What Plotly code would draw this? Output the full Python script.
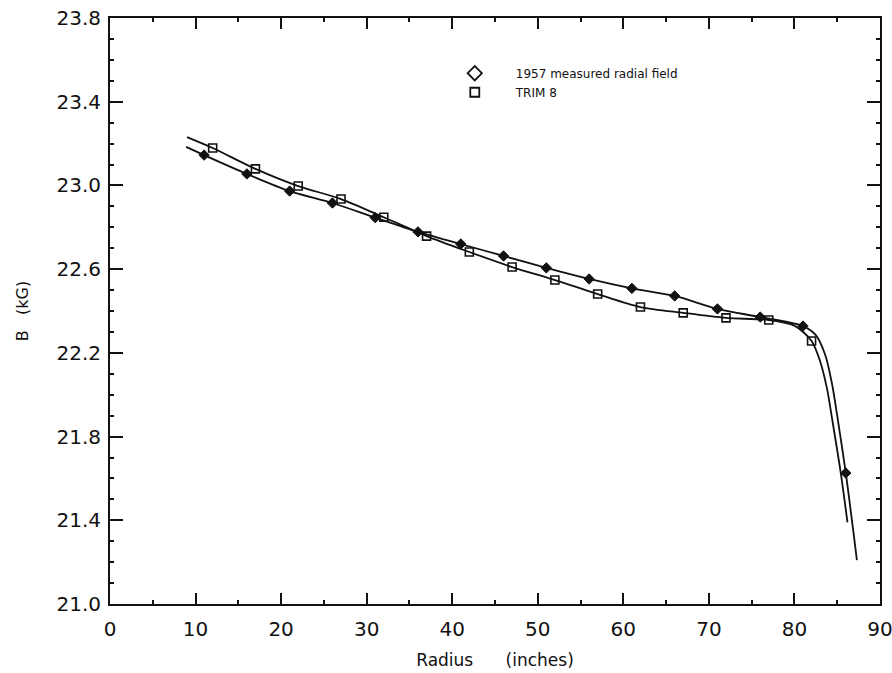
import plotly.graph_objects as go

# Measured radial field (1957), radius in inches, B in kG
measured_r = [11, 16, 21, 26, 31, 36, 41, 46, 51, 56, 61, 66, 71, 76, 81, 86]
measured_b = [23.145, 23.055, 22.973, 22.916, 22.846, 22.778, 22.720, 22.663,
              22.606, 22.553, 22.508, 22.472, 22.410, 22.371, 22.328, 21.626]

# TRIM 8 computed field
trim_r = [12, 17, 22, 27, 32, 37, 42, 47, 52, 57, 62, 67, 72, 77, 82]
trim_b = [23.179, 23.079, 22.997, 22.935, 22.848, 22.758, 22.682, 22.610,
          22.548, 22.481, 22.419, 22.391, 22.367, 22.357, 22.257]

# Smooth curves drawn through each data set (including the fall-off at the edge)
measured_curve_r = [8.9] + measured_r[:-1] + [82.5, 83.6, 84.4, 85.0, 86.0, 87.3]
measured_curve_b = [23.184] + measured_b[:-1] + [22.285, 22.19, 22.05, 21.90, 21.626, 21.21]

trim_curve_r = [9.0] + trim_r[:-1] + [80.0, 82.0, 83.0, 83.8, 84.5, 85.4, 86.2]
trim_curve_b = [23.231] + trim_b[:-1] + [22.33, 22.257, 22.16, 22.03, 21.86, 21.63, 21.39]

x_ticks = [0, 10, 20, 30, 40, 50, 60, 70, 80, 90]
y_ticks = [21.0, 21.4, 21.8, 22.2, 22.6, 23.0, 23.4, 23.8]

label_measured = "1957 measured radial field"
label_trim = "TRIM 8"

INK = "#111111"
FONT = "DejaVu Sans"

fig = go.Figure()

fig.add_trace(go.Scatter(x=measured_curve_r, y=measured_curve_b, mode="lines",
                         line=dict(color=INK, width=1.8, shape="spline", smoothing=0.8),
                         showlegend=False, hoverinfo="skip"))
fig.add_trace(go.Scatter(x=trim_curve_r, y=trim_curve_b, mode="lines",
                         line=dict(color=INK, width=1.8, shape="spline", smoothing=0.8),
                         showlegend=False, hoverinfo="skip"))

fig.add_trace(go.Scatter(x=measured_r, y=measured_b, mode="markers",
                         marker=dict(symbol="diamond", size=8, color=INK,
                                     line=dict(color=INK, width=1)),
                         showlegend=False))
fig.add_trace(go.Scatter(x=trim_r, y=trim_b, mode="markers",
                         marker=dict(symbol="square-open", size=8, color=INK,
                                     line=dict(color=INK, width=1.6)),
                         showlegend=False))

# Legend entries use open symbols
fig.add_trace(go.Scatter(x=[None], y=[None], mode="markers", name=label_measured,
                         marker=dict(symbol="diamond-open", size=11, color=INK,
                                     line=dict(color=INK, width=1.8))))
fig.add_trace(go.Scatter(x=[None], y=[None], mode="markers", name=label_trim,
                         marker=dict(symbol="square-open", size=9, color=INK,
                                     line=dict(color=INK, width=1.8))))

axis_common = dict(
    automargin=False, ticklabeloverflow="allow",
    showgrid=False, zeroline=False, showline=True, linecolor=INK, linewidth=2,
    mirror="allticks", ticks="inside", tickcolor=INK, tickwidth=1.5,
    tickfont=dict(family=FONT, size=20, color=INK),
)

fig.update_xaxes(
    **axis_common, range=[0, 90], tickvals=x_ticks, ticklen=11, ticklabelstandoff=6,
    minor=dict(ticks="inside", dtick=5, ticklen=4, tickcolor=INK, tickwidth=1.5),
    title=dict(text="Radius&nbsp;&nbsp;&nbsp;&nbsp;&nbsp;&nbsp;(inches)",
               font=dict(family=FONT, size=17, color=INK), standoff=14),
)
fig.update_yaxes(
    **axis_common, range=[21.0, 23.8], tickvals=y_ticks, ticktext=[f"{v:.1f}" for v in y_ticks],
    ticklen=13, ticklabelstandoff=3,
    minor=dict(ticks="inside", dtick=0.1, tick0=21.0, ticklen=4, tickcolor=INK, tickwidth=1.5),
    title=dict(text="B&nbsp;&nbsp;&nbsp;(kG)", font=dict(family=FONT, size=16, color=INK), standoff=24),
)

fig.update_layout(
    width=892, height=673,
    margin=dict(l=110, r=12, t=18, b=69),
    paper_bgcolor="white", plot_bgcolor="white",
    legend=dict(x=0.4205, y=0.9305, xanchor="left", yanchor="top",
                itemwidth=72, font=dict(family=FONT, size=12, color=INK),
                bgcolor="rgba(0,0,0,0)", tracegroupgap=0),
)

fig.write_html("out.html")
